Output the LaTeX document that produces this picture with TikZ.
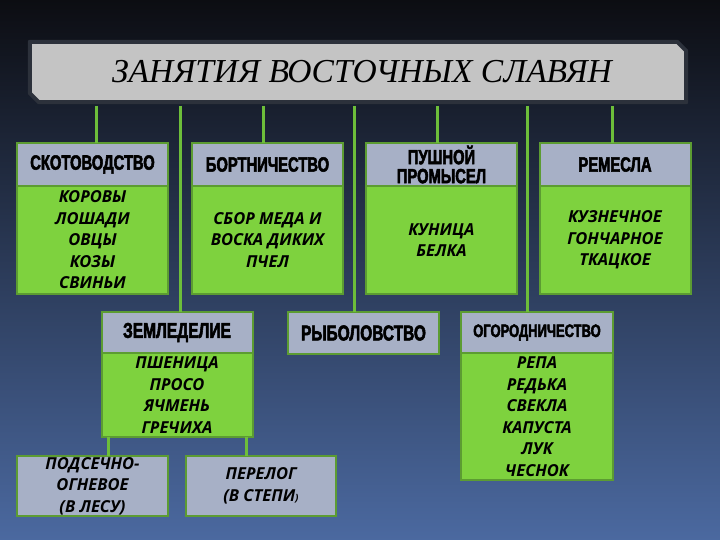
\documentclass[tikz,border=0pt]{standalone}
\usepackage{fontspec}
\usetikzlibrary{positioning}
\newfontfamily\titlefont{Liberation Serif}
\newfontfamily\headfont[FakeStretch=0.72,BoldFeatures={FakeBold=2.5}]{Liberation Sans}
\newfontfamily\itemfont{Open Sans}
\definecolor{bgtop}{HTML}{0C0D12}
\definecolor{bgmid}{HTML}{28334A}
\definecolor{bgbot}{HTML}{4B69A0}
\definecolor{headgray}{HTML}{A7B0C6}
\definecolor{bodygreen}{HTML}{7ED23E}
\definecolor{boxgreen}{HTML}{5C9C32}
\definecolor{linkgreen}{HTML}{6DBE3A}
\definecolor{bannergray}{HTML}{C4C4C4}
\definecolor{bannerrim}{HTML}{2C313B}
\tikzset{
  head/.style={draw=boxgreen, line width=2pt, fill=headgray, outer sep=0pt,
    minimum width=151pt, minimum height=43pt, inner sep=0pt, align=center,
    font=\headfont\bfseries\fontsize{20.5}{19}\selectfont},
  body/.style={draw=boxgreen, line width=2pt, fill=bodygreen, outer sep=0pt,
    minimum width=151pt, inner sep=0pt, align=center,
    font=\itemfont\bfseries\itshape\fontsize{16.5}{21.5}\selectfont},
  plainbox/.style={body, fill=headgray},
  link/.style={draw=linkgreen, line width=3pt},
}
\begin{document}
\begin{tikzpicture}[x=1pt,y=-1pt]
\useasboundingbox (0,0) rectangle (720,540);
\shade[top color=bgtop, middle color=bgmid, bottom color=bgbot] (0,0) rectangle (720,540);

% title banner
\node[minimum width=656pt, minimum height=60pt, inner sep=0pt] (title) at (358,72) {};
\filldraw[fill=bannergray, draw=bannerrim, line width=4pt, line join=round]
  (title.north west) -- ([xshift=-9pt]title.north east) -- ([yshift=-9pt]title.north east)
  -- (title.south east) -- ([xshift=9pt]title.south west) -- ([yshift=9pt]title.south west) -- cycle;
\node at ([xshift=4pt]title) {\titlefont\itshape\fontsize{33.5}{36}\selectfont ЗАНЯТИЯ ВОСТОЧНЫХ СЛАВЯН};

% first row
\node[head] (sko) at (92.5,164.5) {СКОТОВОДСТВО};
\node[body, minimum height=108pt, below=0pt of sko] (skob) {КОРОВЫ\\ЛОШАДИ\\ОВЦЫ\\КОЗЫ\\СВИНЬИ};
\node[head] (bort) at (267.5,164.5) {БОРТНИЧЕСТВО};
\node[body, minimum height=108pt, below=0pt of bort] (bortb) {СБОР МЕДА И\\ВОСКА ДИКИХ\\ПЧЕЛ};
\node[head] (push) at (441.5,164.5) {ПУШНОЙ\\ПРОМЫСЕЛ};
\node[body, minimum height=108pt, below=0pt of push] (pushb) {КУНИЦА\\БЕЛКА};
\node[head] (rem) at (615,164.5) {РЕМЕСЛА};
\node[body, minimum height=108pt, below=0pt of rem] (remb) {КУЗНЕЧНОЕ\\ГОНЧАРНОЕ\\ТКАЦКОЕ};

% second row
\node[head, minimum height=41pt, font=\headfont\bfseries\fontsize{21.5}{20}\selectfont] (zem) at (177,332.5) {ЗЕМЛЕДЕЛИЕ};
\node[body, minimum height=84pt, below=0pt of zem] (zemb) {ПШЕНИЦА\\ПРОСО\\ЯЧМЕНЬ\\ГРЕЧИХА};
\node[head, minimum height=42pt, font=\headfont\bfseries\fontsize{21.5}{20}\selectfont] (ryb) at (363.5,333) {РЫБОЛОВСТВО};
\node[head, minimum height=41pt, minimum width=152pt, font=\headfont\bfseries\fontsize{18}{18}\selectfont] (ogo) at (537,332.5) {ОГОРОДНИЧЕСТВО};
\node[body, minimum height=127pt, minimum width=152pt, below=0pt of ogo] (ogob) {РЕПА\\РЕДЬКА\\СВЕКЛА\\КАПУСТА\\ЛУК\\ЧЕСНОК};

% third row
\node[plainbox, minimum height=60pt] (pod) at (92.5,486) {ПОДСЕЧНО-\\ОГНЕВОЕ\\(В ЛЕСУ)};
\node[plainbox, minimum height=60pt, minimum width=150pt] (per) at (261,486) {ПЕРЕЛОГ\\(В СТЕПИ{\fontsize{10}{10}\selectfont)}};

% connectors
\foreach \x/\n in {96/sko, 180/zem, 263/bort, 354/ryb, 437/push, 527/ogo, 612/rem}
  {\coordinate (top\n) at (\x,106);
   \draw[link] (top\n) -- (top\n |- \n.north);}
\coordinate (left) at (108,437);
\coordinate (right) at (246,437);
\draw[link] (left) -- (left |- pod.north);
\draw[link] (right) -- (right |- per.north);
\end{tikzpicture}
\end{document}
